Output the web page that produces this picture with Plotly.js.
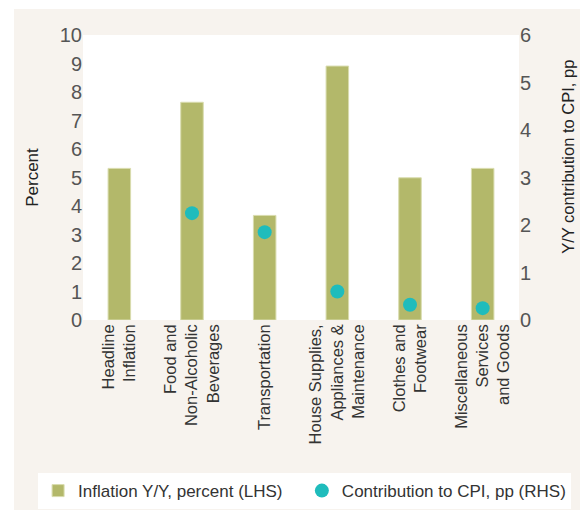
<!DOCTYPE html>
<html>
<head>
<meta charset="utf-8">
<script src="https://cdn.plot.ly/plotly-3.0.1.min.js"></script>
<style>
html,body{margin:0;padding:0;background:#ffffff;}
#chart{position:absolute;left:14px;top:9px;width:566px;height:501px;}
</style>
</head>
<body>
<div id="chart"></div>
<script>
var categories = [
  "Headline<br>Inflation",
  "Food and<br>Non-Alcoholic<br>Beverages",
  "Transportation",
  "House Supplies,<br>Appliances &<br>Maintenance",
  "Clothes and<br>Footwear",
  "Miscellaneous<br>Services<br>and Goods"
];
var inflationYY = [5.32, 7.64, 3.67, 8.91, 4.99, 5.32];
var contribution = [null, 2.25, 1.85, 0.60, 0.32, 0.25];
var leftTicks = [0,1,2,3,4,5,6,7,8,9,10];
var rightTicks = [0,1,2,3,4,5,6];

var FONT = '"Liberation Sans", Arial, sans-serif';
function f(size, color) { return {family: FONT, size: size, color: color}; }

var traces = [
  {
    type: 'bar', x: categories, y: inflationYY,
    name: 'Inflation Y/Y, percent (LHS)',
    marker: {color: '#b3b86a', line: {color: '#d9dcae', width: 1}},
    yaxis: 'y', legend: 'legend'
  },
  {
    type: 'scatter', mode: 'markers', x: categories, y: contribution,
    name: 'Contribution to CPI, pp (RHS)',
    marker: {color: '#1fbcbc', size: 14},
    yaxis: 'y2', legend: 'legend2'
  }
];

var layout = {
  width: 566, height: 501,
  paper_bgcolor: '#f7f3ee',
  plot_bgcolor: '#ffffff',
  margin: {l: 69, r: 61, t: 26, b: 190, autoexpand: false},
  bargap: 0.69,
  font: f(17, '#444444'),
  showlegend: true,
  xaxis: {
    type: 'category',
    tickangle: -90,
    tickfont: f(16.5, '#333333'),
    showgrid: false, zeroline: false, showline: false, ticks: '',
    automargin: false
  },
  yaxis: {
    range: [0, 10], tickvals: leftTicks, ticktext: leftTicks.map(String),
    showgrid: false, zeroline: false, showline: false, ticks: '',
    tickfont: f(20, '#555555'),
    title: {text: 'Percent', font: f(17, '#222222'), standoff: 16},
    automargin: false
  },
  yaxis2: {
    overlaying: 'y', side: 'right',
    range: [0, 6], tickvals: rightTicks, ticktext: rightTicks.map(String),
    showgrid: false, zeroline: false, showline: false, ticks: '',
    tickfont: f(20, '#555555'),
    automargin: false
  },
  annotations: [{
    text: 'Y/Y contribution to CPI, pp',
    xref: 'paper', yref: 'paper',
    x: 1.112, y: 0.572, xanchor: 'center', yanchor: 'middle',
    textangle: -90, showarrow: false,
    font: f(16.5, '#222222')
  }],
  legend: {
    orientation: 'h',
    x: -0.103, xanchor: 'left',
    y: -0.537, yanchor: 'top',
    bgcolor: '#ffffff',
    font: f(17, '#333333'),
    itemwidth: 30,
    entrywidth: 220
  },
  legend2: {
    orientation: 'h',
    x: 0.502, xanchor: 'left',
    y: -0.537, yanchor: 'top',
    bgcolor: '#ffffff',
    font: f(17, '#333333'),
    itemwidth: 30
  }
};

Plotly.newPlot('chart', traces, layout, {displayModeBar: false, staticPlot: true});
</script>
</body>
</html>
